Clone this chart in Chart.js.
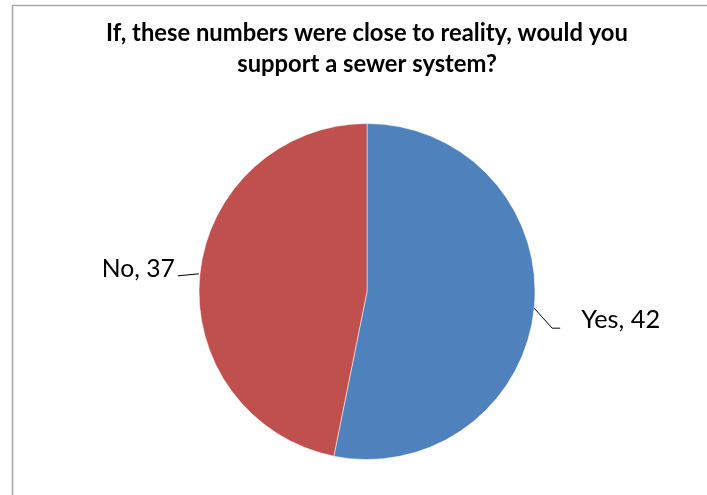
<!DOCTYPE html>
<html><head><meta charset="utf-8">
<script src="https://cdn.jsdelivr.net/npm/chart.js@4"></script>
<style>html,body{margin:0;padding:0;background:#fff;}#wrap{width:707px;height:495px;position:relative;}</style>
</head><body><div id="wrap"><canvas id="c" width="707" height="495"></canvas></div>
<script>
const categories = ['Yes', 'No'];
const values = [42, 37];
const colors = ['#4F81BD', '#C0504D'];
const titleLines = ['If, these numbers were close to reality, would you', 'support a sewer system?'];

const FONT = 'Lato, "Open Sans", sans-serif';

function fitFont(ctx, text, weight, targetWidth) {
  ctx.font = weight + ' 20px ' + FONT;
  const w = ctx.measureText(text).width;
  const size = 20 * targetWidth / w;
  return weight + ' ' + size.toFixed(2) + 'px ' + FONT;
}

const decor = {
  id: 'decor',
  beforeDraw(chart) {
    const ctx = chart.ctx;
    ctx.save();
    ctx.fillStyle = '#fff';
    ctx.fillRect(0, 0, chart.width, chart.height);
    ctx.strokeStyle = '#A6A6A6';
    ctx.lineWidth = 1.5;
    ctx.beginPath();
    ctx.moveTo(12.5, chart.height + 5);
    ctx.lineTo(12.5, 5.5);
    ctx.lineTo(chart.width + 5, 5.5);
    ctx.stroke();
    ctx.restore();
  },
  afterDraw(chart) {
    const ctx = chart.ctx;
    ctx.save();
    ctx.fillStyle = '#000';
    ctx.textAlign = 'center';
    ctx.textBaseline = 'alphabetic';
    ctx.font = fitFont(ctx, titleLines[0], 'bold', 522);
    ctx.fillText(titleLines[0], 367, 41);
    ctx.fillText(titleLines[1], 367, 72);

    const meta = chart.getDatasetMeta(0);
    ctx.strokeStyle = '#000';
    ctx.lineWidth = 1;
    ctx.textBaseline = 'alphabetic';
    meta.data.forEach((arc, i) => {
      const p = arc.getProps(['x', 'y', 'startAngle', 'endAngle', 'outerRadius'], true);
      const mid = (p.startAngle + p.endAngle) / 2;
      const ex = p.x + Math.cos(mid) * p.outerRadius;
      const ey = p.y + Math.sin(mid) * p.outerRadius;
      const text = categories[i] + ', ' + values[i];
      ctx.beginPath();
      if (Math.cos(mid) >= 0) {
        ctx.font = fitFont(ctx, text, 'normal', 79);
        ctx.moveTo(ex, ey);
        ctx.lineTo(ex + 18, ey + 20);
        ctx.lineTo(ex + 26, ey + 20);
        ctx.stroke();
        ctx.textAlign = 'left';
        ctx.fillText(text, ex + 47, ey + 20);
      } else {
        ctx.font = fitFont(ctx, text, 'normal', 73);
        ctx.moveTo(ex - 1, ey - 1);
        ctx.lineTo(ex - 22, ey + 1);
        ctx.stroke();
        ctx.textAlign = 'right';
        ctx.fillText(text, ex - 25, ey + 2);
      }
    });
    ctx.restore();
  }
};

new Chart(document.getElementById('c'), {
  type: 'pie',
  data: {
    labels: categories,
    datasets: [{
      data: values,
      backgroundColor: colors,
      borderColor: '#ffffff',
      borderWidth: 0.5,
      radius: 168
    }]
  },
  options: {
    responsive: false,
    animation: false,
    layout: { padding: { left: 27, right: 0, top: 88, bottom: 0 } },
    plugins: { legend: { display: false }, title: { display: false }, tooltip: { enabled: false } }
  },
  plugins: [decor]
});
</script>
</body></html>
